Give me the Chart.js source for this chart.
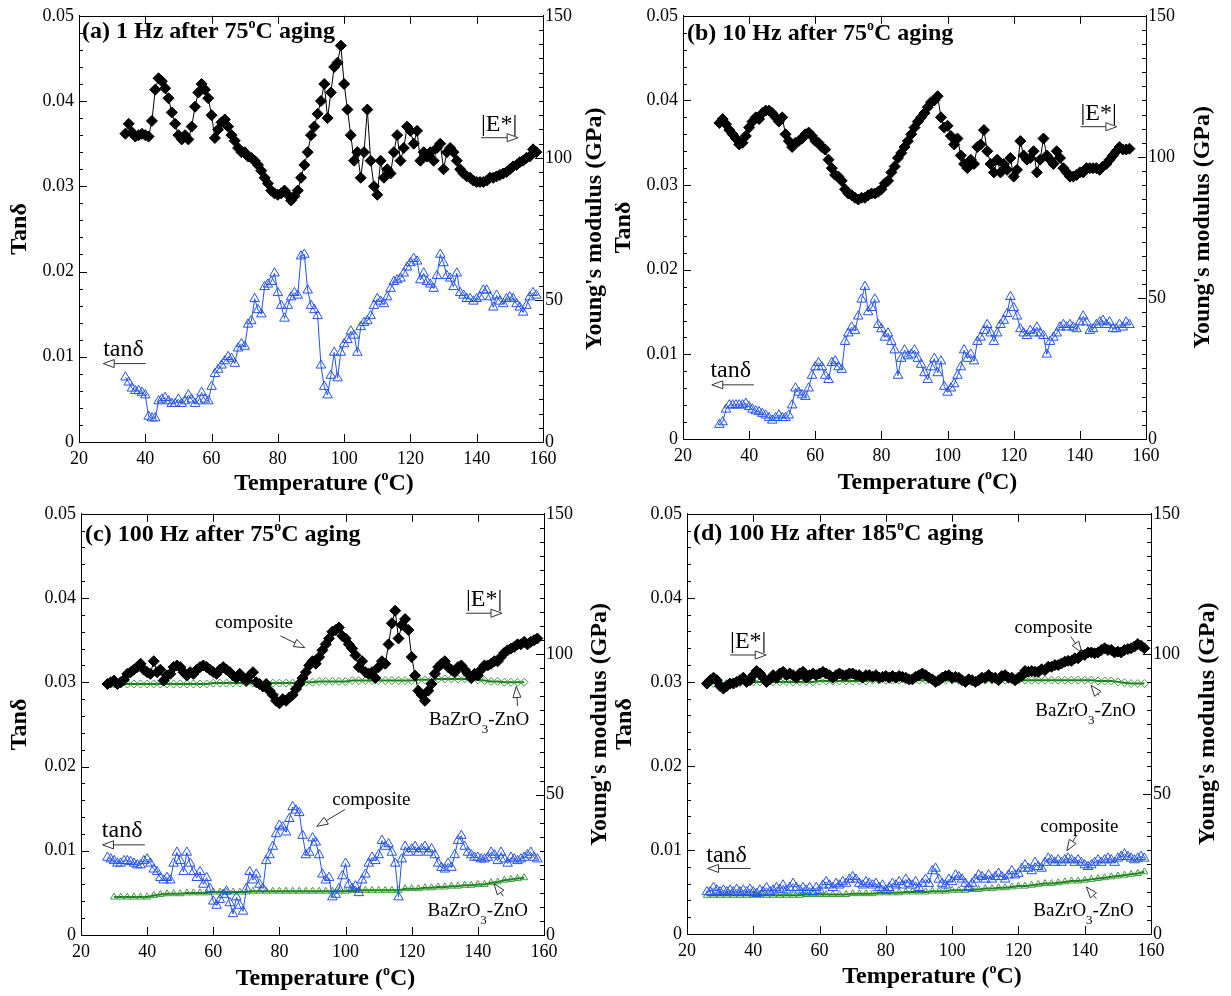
<!DOCTYPE html>
<html>
<head>
<meta charset="utf-8">
<script src="https://cdn.jsdelivr.net/npm/chart.js@4.4.0/dist/chart.umd.min.js"></script>
<style>
body{margin:0;background:#fff;width:1231px;height:996px;position:relative;overflow:hidden;font-family:'Liberation Serif',serif}
canvas{position:absolute}
</style>
</head>
<body>
<canvas id="pa" width="615" height="498" style="left:0;top:0"></canvas>
<canvas id="pb" width="616" height="498" style="left:615px;top:0"></canvas>
<canvas id="pc" width="615" height="498" style="left:0;top:498px"></canvas>
<canvas id="pd" width="616" height="498" style="left:615px;top:498px"></canvas>
<script>
// ---- data (temperature in degC, tan delta, |E*| in GPa) ----
var tA = [34,35,36,37,38,39,40,41,42,43,44,45,46,47,48,49,50,51,52,53,54,55,56,57,58,59,60,61,62,63,64,65,66,67,68,69,70,71,72,73,74,75,76,77,78,79,80,81,82,83,84,85,86,87,88,89,90,91,92,93,94,95,96,97,98,99,100,101,102,103,104,105,106,107,108,109,110,111,112,113,114,115,116,117,118,119,120,121,122,123,124,125,126,127,128,129,130,131,132,133,134,135,136,137,138,139,140,141,142,143,144,145,146,147,148,149,150,151,152,153,154,155,156,157,158];
var eA = [108.5,112,109,107.5,108,108.5,108,107.5,113,124,
  128,127,124.5,121,116,112,108,106.5,108,106.5,
  111,118,123,126,124,121,115,107,110,112.5,
  113.5,111,108,106,103.5,102,102,100.5,100,99,
  97.5,95.5,93,91,88.5,87.5,87,87.5,88.5,87,
  85,86.5,88.5,93,97.5,102,108,111,115.5,120,
  126,114,123,132,133.5,139.5,126,117,108,99,
  102,93,102,117,99,90,87,99,93,96,
  94.5,102,108,99,103.5,111,109.5,105,109.5,99,
  102,100.5,102,99,103.5,105,96,102,103.5,102,
  99,96,94.5,93.5,93,92,91.5,91.5,91.5,92,
  93,93,93.5,94,94.5,95,96,97,97.5,98.5,
  99,100,100.5,103,102];
var tanA = [.0076,.007,.0063,.006,.006,.0058,.0055,.003,.0028,.0028,
  .0048,.005,.0052,.0048,.0045,.0045,.005,.0045,.0048,.0055,
  .005,.0045,.0048,.0058,.005,.0048,.0065,.008,.0085,.009,
  .0095,.01,.0098,.0092,.011,.0115,.0112,.0138,.0142,.0168,
  .0155,.015,.0182,.0185,.0188,.0198,.0175,.016,.0145,.016,
  .017,.0175,.0172,.0218,.022,.0178,.016,.0155,.0148,.009,
  .0065,.0055,.0078,.0105,.0075,.0105,.0115,.012,.013,.0125,
  .0105,.0135,.014,.0142,.0148,.016,.0168,.0165,.0162,.017,
  .018,.0188,.019,.0192,.0198,.0205,.021,.0215,.0212,.019,
  .0198,.0188,.0185,.018,.0195,.022,.021,.0195,.0192,.0182,
  .0198,.0175,.0172,.0168,.0168,.0165,.0168,.017,.0178,.0178,
  .017,.0158,.0172,.0165,.0162,.0168,.017,.0168,.0162,.0158,
  .0152,.016,.017,.0175,.0172];

var tB = [31,32,33,34,35,36,37,38,39,40,41,42,43,44,45,46,47,48,49,50,51,52,53,54,55,56,57,58,59,60,61,62,63,64,65,66,67,68,69,70,71,72,73,74,75,76,77,78,79,80,81,82,83,84,85,86,87,88,89,90,91,92,93,94,95,96,97,98,99,100,101,102,103,104,105,106,107,108,109,110,111,112,113,114,115,116,117,118,119,120,121,122,123,124,125,126,127,128,129,130,131,132,133,134,135,136,137,138,139,140,141,142,143,144,145,146,147,148,149,150,151,152,153,154,155];
var eB = [112,113.4,111.6,109.5,108,106.5,104.4,105,107.4,110.4,
  112.5,114,113.4,115.5,116.4,116.4,115.5,114,112.5,114,
  108,105.6,103.5,105,105.6,106.5,108,108.6,107.4,105.6,
  105,103.5,102.6,99,96,93.6,93,91.5,88.5,87,
  86.4,85.5,84.9,85.5,85.5,86.4,87,87,87.6,88.5,
  90.6,91.5,94.5,96.6,99.6,101.4,103.5,105.6,108,110.4,
  112.5,114,115.5,117.6,119.4,120,121.5,114,110.4,111,
  107.4,104.4,106.5,100.5,97.5,96,99,97.5,103.5,104.4,
  109.5,102,97.5,94.5,99,94.5,97.5,95.4,99.6,93,
  95.4,105.6,100.5,99,99.6,102,94.5,99,106.5,100.5,
  99,97.5,102,99.6,96,94.5,93,93,93.6,94.5,
  94.5,96,96,96,96,95.4,96.6,97.5,99,100.5,
  102,103.5,102.6,102.6,102.9];
var tanB = [.0017,.002,.0035,.004,.004,.004,.004,.004,.0042,.0038,
  .0035,.0033,.0032,.003,.0028,.0025,.0022,.0025,.0028,.0025,
  .0025,.0028,.004,.006,.0055,.0052,.005,.006,.0075,.0085,
  .009,.0085,.0075,.007,.009,.0092,.0085,.0082,.0115,.0125,
  .0132,.0128,.0145,.0165,.018,.015,.0155,.0165,.0135,.013,
  .012,.0125,.0115,.0105,.0075,.0095,.0105,.0098,.01,.0105,
  .0095,.0088,.0078,.007,.0085,.0095,.0078,.0092,.0062,.0055,
  .006,.0065,.0075,.0085,.0105,.0095,.01,.0092,.0115,.012,
  .0128,.0135,.0125,.0115,.0125,.0135,.014,.0148,.0168,.0155,
  .0145,.013,.0125,.0122,.0128,.0125,.0132,.0125,.0122,.01,
  .0115,.012,.0125,.0132,.0135,.0132,.0135,.0132,.013,.0138,
  .0145,.0138,.0128,.013,.0135,.0138,.014,.0135,.0138,.013,
  .013,.0135,.0132,.0138,.0135];

var tC = [28,29,30,31,32,33,34,35,36,37,38,39,40,41,42,43,44,45,46,47,48,49,50,51,52,53,54,55,56,57,58,59,60,61,62,63,64,65,66,67,68,69,70,71,72,73,74,75,76,77,78,79,80,81,82,83,84,85,86,87,88,89,90,91,92,93,94,95,96,97,98,99,100,101,102,103,104,105,106,107,108,109,110,111,112,113,114,115,116,117,118,119,120,121,122,123,124,125,126,127,128,129,130,131,132,133,134,135,136,137,138,139,140,141,142,143,144,145,146,147,148,149,150,151,152,153,154,155,156,157,158];
var eC = [89.4,90,90.6,89.4,90,90.9,93,93.6,94.5,95.4,
  96.6,94.5,93.6,93,97.5,93.6,94.5,90.6,92.4,93,
  95.4,96,95.4,93.6,92.4,93.6,93,94.5,95.4,96,
  95.4,94.5,93.6,93,94.5,95.4,94.5,93.6,92.4,91.5,
  93,91.5,90.6,92.4,93.6,90,89.4,88.5,89.4,87,
  85.5,83.4,82.5,84,83.4,84.6,85.5,87.6,89.4,91.5,
  93.6,96,97.5,96.6,99,101.4,103.5,105.6,108,108.6,
  109.5,106.5,105.6,103.5,102,99.6,95.4,97.5,93.6,93,
  93.6,91.5,95.4,97.5,96.6,103.5,111,115.5,105.6,110.4,
  112.5,108.6,99,92.4,87,85.5,83.4,87,89.4,93,
  95.4,96.6,97.5,95.4,94.5,93.6,95.4,96,94.5,93,
  91.5,93,92.4,94.5,96,96,96.6,97.5,97.5,99,
  100.5,101.4,102,102.6,103.5,103.5,104.4,103.5,104.4,105,
  105.6];
var tanC = [.0092,.009,.0088,.0085,.0085,.0088,.0088,.0087,.0085,.0083,
  .0083,.0088,.009,.0085,.0078,.0075,.0068,.0065,.0068,.0065,
  .0085,.0098,.0088,.0075,.0098,.0085,.0075,.0068,.0075,.006,
  .0068,.0055,.004,.0035,.0042,.0048,.0052,.0038,.0025,.0045,
  .0035,.0028,.0055,.0075,.0065,.0072,.006,.0055,.0088,.0095,
  .0105,.012,.013,.0128,.0122,.0138,.0152,.0148,.0145,.0118,
  .0095,.0098,.0115,.011,.0095,.0072,.0065,.0068,.0045,.0048,
  .0055,.007,.0085,.006,.0055,.0058,.005,.0065,.0072,.0085,
  .0092,.0088,.0095,.0112,.0105,.0108,.0098,.0085,.0045,.009,
  .0105,.0098,.0102,.0105,.0098,.0102,.0105,.0098,.0102,.0095,
  .0085,.008,.0078,.0085,.008,.0095,.0112,.0118,.0105,.0098,
  .0095,.0092,.0092,.009,.009,.0092,.0098,.0095,.0088,.0098,
  .009,.0085,.0092,.009,.0088,.009,.0092,.0095,.0098,.0092,
  .009];
var tCref = [30,32,34,36,38,40,42,44,46,48,50,52,54,56,58,60,62,64,66,68,70,72,74,76,78,80,82,84,86,88,90,92,94,96,98,100,102,104,106,108,110,112,114,116,118,120,122,124,126,128,130,132,134,136,138,140,142,144,146,148,150,152,154];
var eCref = [89.4,89.4,89.4,89.4,89.4,89.4,89.4,89.4,89.4,89.4,
  89.4,89.4,89.4,89.4,89.4,89.7,89.7,89.7,89.7,89.7,
  89.7,89.7,89.7,89.7,89.7,89.7,89.7,89.7,90,90,
  90,90.3,90.3,90.3,90.3,90.3,90.6,90.6,90.6,90.6,
  90.6,90.6,90.6,90.6,90.6,90.6,90.9,90.9,90.9,91.2,
  91.2,91.2,91.2,91.2,90.9,90.9,90.6,90.3,90.3,90,
  90,90,90];
var tanCref = [.0045,.0045,.0045,.0045,.0045,.0045,.0047,.0048,.0049,.0049,
  .0049,.005,.005,.005,.005,.0051,.0051,.0051,.0051,.0051,
  .0051,.0052,.0052,.0052,.0052,.0052,.0052,.0052,.0052,.0052,
  .0052,.0052,.0052,.0052,.0052,.0052,.0053,.0053,.0053,.0053,
  .0053,.0053,.0053,.0053,.0055,.0055,.0055,.0056,.0056,.0057,
  .0057,.0058,.0058,.0059,.0059,.006,.006,.0062,.0063,.0065,
  .0066,.0067,.0068];

var tD = [26,27,28,29,30,31,32,33,34,35,36,37,38,39,40,41,42,43,44,45,46,47,48,49,50,51,52,53,54,55,56,57,58,59,60,61,62,63,64,65,66,67,68,69,70,71,72,73,74,75,76,77,78,79,80,81,82,83,84,85,86,87,88,89,90,91,92,93,94,95,96,97,98,99,100,101,102,103,104,105,106,107,108,109,110,111,112,113,114,115,116,117,118,119,120,121,122,123,124,125,126,127,128,129,130,131,132,133,134,135,136,137,138,139,140,141,142,143,144,145,146,147,148,149,150,151,152,153,154,155,156,157,158];
var eD = [89.4,90.6,91.5,90.6,88.5,87.6,88.5,89.4,89.4,90,
  90.6,91.5,90,90.6,92.4,93.9,93,91.5,90,90.9,
  92.4,91.5,93,93.6,92.4,93,92.4,91.5,93,93.6,
  91.5,92.4,93,92.4,93,93.6,93,92.4,91.5,92.4,
  93,92.4,92.4,93,93,92.4,92.4,91.5,92.4,92.4,
  91.8,92.4,91.5,91.8,92.1,91.5,92.1,91.5,92.1,91.8,
  91.5,90.9,90.9,91.8,92.4,93,92.4,91.5,90.9,90,
  90.6,91.5,92.1,92.4,91.5,91.8,91.5,90.6,90,90.9,
  90.6,90,90.6,91.5,91.5,92.4,91.5,91.5,90.6,92.1,
  92.4,91.5,91.5,90.6,91.5,92.1,93.9,93.6,93.9,93.6,
  93.6,94.5,94.2,95.4,95.4,96,96,96.6,97.2,97.5,
  97.5,98.4,98.4,99.6,99.6,100.5,100.5,100.2,100.5,101.4,
  102,101.4,101.4,100.5,100.8,100.5,101.4,101.7,102,102.6,
  103.5,102.9,102];
var tanD = [.005,.005,.0055,.0052,.005,.0052,.005,.0052,.005,.0053,
  .005,.0052,.005,.0053,.005,.0048,.0052,.005,.0055,.005,
  .0052,.0055,.0053,.0058,.0052,.0055,.006,.0055,.0052,.0055,
  .0052,.0055,.005,.0055,.0052,.0058,.0062,.0058,.0055,.006,
  .0058,.0062,.006,.0065,.0068,.0065,.006,.0058,.0062,.006,
  .0058,.006,.0055,.0058,.0052,.0055,.006,.0058,.0062,.0058,
  .0065,.006,.0058,.0062,.0055,.006,.0065,.006,.0075,.0078,
  .0065,.006,.0058,.0065,.0062,.007,.0068,.0065,.006,.0055,
  .006,.0065,.007,.0068,.0065,.007,.0065,.0068,.0072,.0068,
  .0065,.007,.0075,.007,.0072,.0078,.0082,.0078,.0075,.0085,
  .008,.0078,.0085,.009,.0088,.0085,.0088,.0085,.0088,.009,
  .0088,.0085,.0088,.0085,.0082,.008,.0082,.0085,.0088,.0085,
  .0088,.009,.0088,.0085,.009,.0092,.0095,.0092,.009,.0088,
  .009,.0092,.009];
var tDref = [26,28,30,32,34,36,38,40,42,44,46,48,50,52,54,56,58,60,62,64,66,68,70,72,74,76,78,80,82,84,86,88,90,92,94,96,98,100,102,104,106,108,110,112,114,116,118,120,122,124,126,128,130,132,134,136,138,140,142,144,146,148,150,152,154,156,158];
var eDref = [89.1,89.4,89.4,89.4,89.7,89.7,89.7,90,90,90,
  90,90,90,90,90,90,90,90.3,90.3,90.3,
  90.3,90.3,90.3,90.3,90.3,90.6,90.6,90.6,90.6,90.6,
  90.6,90.6,90.6,90.6,90.6,90.6,90.6,90.6,90.6,90.6,
  90.6,90.6,90.6,90.6,90.6,90.6,90.6,90.6,90.6,90.6,
  90.6,90.6,90.6,90.6,90.6,90.6,90.6,90.6,90.6,90.3,
  90.3,90.3,90,89.7,89.4,89.4,89.4];
var tanDref = [.0046,.0046,.0046,.0046,.0046,.0046,.0046,.0046,.0046,.0046,
  .0046,.0046,.0046,.0046,.0046,.0047,.0047,.0047,.0047,.0047,
  .0047,.0047,.0048,.0048,.0048,.0048,.0049,.0049,.0049,.0049,
  .005,.005,.005,.005,.0051,.0051,.0051,.0052,.0052,.0052,
  .0053,.0053,.0054,.0054,.0055,.0055,.0056,.0057,.0057,.0058,
  .0059,.006,.006,.0061,.0062,.0063,.0063,.0064,.0065,.0066,
  .0067,.0068,.0069,.007,.0071,.0072,.0074];

var xTicks = [20, 40, 60, 80, 100, 120, 140, 160];

// ---- styles ----
const SERIF = "'Liberation Serif', 'DejaVu Serif', serif";
const BLUE = '#2352e6';
const GREEN = '#1c7a1c';

function pts(xs, ys) { return xs.map((t, i) => ({x: t, y: ys[i]})); }

function eComp(xs, ys) {
  return {data: pts(xs, ys), yAxisID: 'y1', borderColor: '#000', borderWidth: 1,
    pointStyle: 'rectRot', pointRadius: 5.5, pointBackgroundColor: '#000',
    pointBorderColor: '#000', pointBorderWidth: 1};
}
function tanComp(xs, ys) {
  return {data: pts(xs, ys), yAxisID: 'y', borderColor: BLUE, borderWidth: 1,
    pointStyle: 'triangle', pointRadius: 5.5, pointBackgroundColor: 'rgba(0,0,0,0)',
    pointBorderColor: BLUE, pointBorderWidth: 1};
}
function eRef(xs, ys) {
  return {data: pts(xs, ys), yAxisID: 'y1', borderColor: GREEN, borderWidth: 2,
    pointStyle: 'rectRot', pointRadius: 4, pointBackgroundColor: 'rgba(0,0,0,0)',
    pointBorderColor: '#3c9c3c', pointBorderWidth: 1};
}
function tanRef(xs, ys) {
  return {data: pts(xs, ys), yAxisID: 'y', borderColor: GREEN, borderWidth: 2,
    pointStyle: 'triangle', pointRadius: 4, pointBackgroundColor: 'rgba(0,0,0,0)',
    pointBorderColor: '#3c9c3c', pointBorderWidth: 1};
}

function richText(ctx, parts, x, y, align) {
  let w = 0;
  parts.forEach(p => { ctx.font = p.f; w += ctx.measureText(p.t).width; });
  let cx = align === 'center' ? x - w / 2 : x;
  parts.forEach(p => {
    ctx.font = p.f;
    ctx.fillText(p.t, cx, y + (p.dy || 0));
    cx += ctx.measureText(p.t).width;
  });
}

function arrow(ctx, x1, y1, x2, y2) {
  const ang = Math.atan2(y2 - y1, x2 - x1), L = 11, W = 4;
  const bx = x2 - L * Math.cos(ang), by = y2 - L * Math.sin(ang);
  ctx.beginPath(); ctx.moveTo(x1, y1); ctx.lineTo(bx, by); ctx.stroke();
  ctx.beginPath(); ctx.moveTo(x2, y2);
  ctx.lineTo(bx + W * Math.sin(ang), by - W * Math.cos(ang));
  ctx.lineTo(bx - W * Math.sin(ang), by + W * Math.cos(ang));
  ctx.closePath(); ctx.stroke();
}

const deco = {
  id: 'deco',
  afterDraw(chart, args, o) {
    const {ctx, chartArea: a, scales} = chart;
    const x = scales.x, y = scales.y, y1 = scales.y1;
    ctx.save();
    ctx.strokeStyle = '#000'; ctx.lineWidth = 1;
    ctx.beginPath();
    ctx.moveTo(a.left, Math.round(a.top) + 0.5); ctx.lineTo(a.right, Math.round(a.top) + 0.5);
    xTicks.forEach(t => {
      const px = Math.round(x.getPixelForValue(t)) + 0.5;
      ctx.moveTo(px, a.bottom); ctx.lineTo(px, a.bottom - 8);
      ctx.moveTo(px, a.top); ctx.lineTo(px, a.top + 8);
    });
    for (let i = 0; i <= 25; i++) {
      const py = Math.round(y.getPixelForValue(i * 0.002)) + 0.5;
      const L = i % 5 === 0 ? 8 : 4;
      ctx.moveTo(a.left, py); ctx.lineTo(a.left + L, py);
    }
    for (let i = 0; i <= 30; i++) {
      const py = Math.round(y1.getPixelForValue(i * 5)) + 0.5;
      const L = i % 10 === 0 ? 8 : 4;
      ctx.moveTo(a.right, py); ctx.lineTo(a.right - L, py);
    }
    ctx.stroke();

    ctx.fillStyle = '#000';
    ctx.textBaseline = 'alphabetic';
    const B = 'bold 24px ' + SERIF, BS = 'bold 14px ' + SERIF;
    richText(ctx, [{t: o.title[0], f: B}, {t: 'o', f: BS, dy: -10}, {t: o.title[1], f: B}],
      a.left + o.tdx, a.top + o.tdy, 'left');
    richText(ctx, [{t: 'Temperature (', f: B}, {t: 'o', f: BS, dy: -10}, {t: 'C)', f: B}],
      (a.left + a.right) / 2 + 13, a.bottom + o.bdy, 'center');
    const mid = (a.top + a.bottom) / 2;
    ctx.font = B; ctx.textAlign = 'center'; ctx.textBaseline = 'middle';
    ctx.save(); ctx.translate(a.left + o.ldx, mid); ctx.rotate(-Math.PI / 2);
    ctx.fillText('Tan\u03b4', 0, 0); ctx.restore();
    ctx.save(); ctx.translate(a.right + o.rdx, mid); ctx.rotate(-Math.PI / 2);
    ctx.fillText("Young's modulus (GPa)", 0, 0); ctx.restore();

    ctx.textAlign = 'left'; ctx.textBaseline = 'alphabetic';
    ctx.strokeStyle = '#333';
    o.notes.forEach(n => {
      if (n.k === 'arrow') {
        arrow(ctx, x.getPixelForValue(n.x1), y.getPixelForValue(n.y1),
          x.getPixelForValue(n.x2), y.getPixelForValue(n.y2));
      } else if (n.k === 'sub') {
        const F = '19px ' + SERIF;
        richText(ctx, [{t: 'BaZrO', f: F}, {t: '3', f: '13px ' + SERIF, dy: 8}, {t: '-ZnO', f: F}],
          x.getPixelForValue(n.x), y.getPixelForValue(n.y), 'left');
      } else {
        ctx.font = (n.size || 24) + 'px ' + SERIF;
        ctx.fillText(n.s, x.getPixelForValue(n.x), y.getPixelForValue(n.y));
      }
    });
    ctx.restore();
  }
};

function makePanel(id, datasets, lay, deco_opts) {
  const tickFont = {family: SERIF, size: 18};
  new Chart(document.getElementById(id), {
    type: 'line',
    data: {datasets: datasets},
    plugins: [deco],
    options: {
      responsive: false,
      animation: false,
      layout: {padding: {top: lay.top, left: 0, right: 0, bottom: 0}},
      elements: {line: {tension: 0}},
      plugins: {legend: {display: false}, tooltip: {enabled: false}, deco: deco_opts},
      scales: {
        x: {type: 'linear', min: 20, max: 160,
          ticks: {stepSize: 20, font: tickFont, color: '#000', padding: 6},
          grid: {display: false, drawTicks: false},
          border: {display: true, color: '#000', width: 1},
          afterFit: s => { s.height = lay.xh; }},
        y: {type: 'linear', position: 'left', min: 0, max: 0.05,
          ticks: {stepSize: 0.01, font: tickFont, color: '#000', padding: 5,
            callback: v => (Math.abs(v) < 1e-9 ? '0' : v.toFixed(2))},
          grid: {display: false, drawTicks: false},
          border: {display: true, color: '#000', width: 1},
          afterFit: s => { s.width = lay.yw; }},
        y1: {type: 'linear', position: 'right', min: 0, max: 150,
          ticks: {stepSize: 50, font: tickFont, color: '#000', padding: 2},
          grid: {display: false, drawTicks: false},
          border: {display: true, color: '#000', width: 1},
          afterFit: s => { s.width = lay.y1w; }}
      }
    }
  });
}

makePanel('pa', [eComp(tA, eA), tanComp(tA, tanA)],
  {top: 11, xh: 56, yw: 79, y1w: 72},
  {title: ['(a) 1 Hz after 75', 'C aging'], tdx: 3, tdy: 22, bdy: 48, ldx: -59, rdx: 52,
   notes: [
     {k: 'text', s: '|E*|', x: 141.3, y: 0.0365},
     {k: 'arrow', x1: 141.3, y1: 0.0357, x2: 152.5, y2: 0.0357},
     {k: 'text', s: 'tan\u03b4', x: 27.3, y: 0.0101},
     {k: 'arrow', x1: 40.1, y1: 0.0092, x2: 27.3, y2: 0.0092}
   ]});

makePanel('pb', [eComp(tB, eB), tanComp(tB, tanB)],
  {top: 9, xh: 59, yw: 68, y1w: 85},
  {title: ['(b) 10 Hz after 75', 'C aging'], tdx: 4, tdy: 24, bdy: 50, ldx: -59, rdx: 57,
   notes: [
     {k: 'text', s: '|E*|', x: 140.2, y: 0.0377},
     {k: 'arrow', x1: 140.2, y1: 0.0369, x2: 151.2, y2: 0.0369},
     {k: 'text', s: 'tan\u03b4', x: 28.3, y: 0.00735},
     {k: 'arrow', x1: 41.4, y1: 0.0064, x2: 28.7, y2: 0.0064}
   ]});

makePanel('pc', [eComp(tC, eC), eRef(tCref, eCref), tanComp(tC, tanC), tanRef(tCref, tanCref)],
  {top: 5, xh: 61, yw: 81, y1w: 71},
  {title: ['(c) 100 Hz after 75', 'C aging'], tdx: 4, tdy: 27, bdy: 50, ldx: -61, rdx: 56,
   notes: [
     {k: 'text', s: '|E*|', x: 136.4, y: 0.0391},
     {k: 'arrow', x1: 136.4, y1: 0.0382, x2: 147.3, y2: 0.0382},
     {k: 'text', s: 'composite', size: 19, x: 60.5, y: 0.0365},
     {k: 'arrow', x1: 80.3, y1: 0.0355, x2: 87.7, y2: 0.0341},
     {k: 'sub', x: 125.2, y: 0.0249},
     {k: 'arrow', x1: 152, y1: 0.0272, x2: 151.6, y2: 0.0295},
     {k: 'text', s: 'composite', size: 19, x: 96, y: 0.0154},
     {k: 'arrow', x1: 99.8, y1: 0.0149, x2: 91.3, y2: 0.0129},
     {k: 'sub', x: 124.8, y: 0.0023},
     {k: 'arrow', x1: 147.7, y1: 0.0046, x2: 144.9, y2: 0.0061},
     {k: 'text', s: 'tan\u03b4', x: 26.3, y: 0.0116},
     {k: 'arrow', x1: 39.3, y1: 0.0107, x2: 26.5, y2: 0.0107}
   ]});

makePanel('pd', [eComp(tD, eD), eRef(tDref, eDref), tanComp(tD, tanD), tanRef(tDref, tanDref)],
  {top: 6, xh: 62, yw: 72, y1w: 80},
  {title: ['(d) 100 Hz after 185', 'C aging'], tdx: 6, tdy: 26, bdy: 49, ldx: -62, rdx: 57,
   notes: [
     {k: 'text', s: '|E*|', x: 33, y: 0.034},
     {k: 'arrow', x1: 33, y1: 0.0332, x2: 43.9, y2: 0.0332},
     {k: 'text', s: 'composite', size: 19, x: 118.8, y: 0.0358},
     {k: 'arrow', x1: 135.8, y1: 0.0354, x2: 139.1, y2: 0.0335},
     {k: 'sub', x: 125.1, y: 0.0259},
     {k: 'arrow', x1: 144.3, y1: 0.0284, x2: 141.9, y2: 0.0296},
     {k: 'text', s: 'composite', size: 19, x: 126.6, y: 0.0121},
     {k: 'arrow', x1: 137.5, y1: 0.0117, x2: 134.6, y2: 0.0099},
     {k: 'sub', x: 124.5, y: 0.0021},
     {k: 'arrow', x1: 143.5, y1: 0.0042, x2: 140.5, y2: 0.0056},
     {k: 'text', s: 'tan\u03b4', x: 25.8, y: 0.0086},
     {k: 'arrow', x1: 39.2, y1: 0.0078, x2: 26.2, y2: 0.0078}
   ]});
</script>
</body>
</html>
